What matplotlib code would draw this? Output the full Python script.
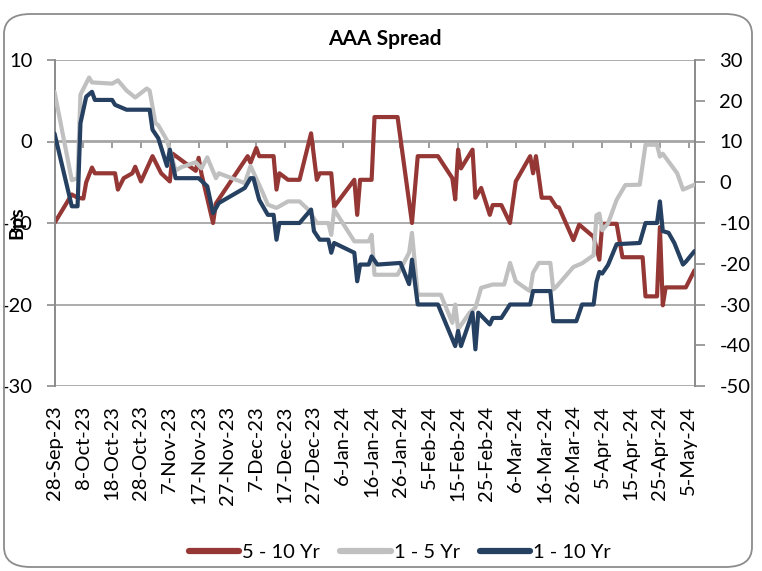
import pandas as pd
import matplotlib
matplotlib.use("Agg")
import matplotlib.pyplot as plt
from matplotlib.patches import FancyBboxPatch

plt.rcParams['font.family'] = ['Lato', 'DejaVu Sans']
plt.rcParams['axes.unicode_minus'] = False

# 5 - 10 Yr (left axis)
red_dates = ["2023-09-28", "2023-10-04", "2023-10-06", "2023-10-08", "2023-10-09", "2023-10-11",
             "2023-10-12", "2023-10-19", "2023-10-20", "2023-10-22", "2023-10-25", "2023-10-26",
             "2023-10-28", "2023-11-01", "2023-11-04", "2023-11-07", "2023-11-08", "2023-11-16",
             "2023-11-17", "2023-11-18", "2023-11-22", "2023-11-23", "2023-12-04", "2023-12-05",
             "2023-12-07", "2023-12-08", "2023-12-13", "2023-12-14", "2023-12-15", "2023-12-18",
             "2023-12-22", "2023-12-26", "2023-12-28", "2023-12-29", "2024-01-02", "2024-01-03",
             "2024-01-10", "2024-01-11", "2024-01-12", "2024-01-16", "2024-01-17", "2024-01-25",
             "2024-01-30", "2024-02-01", "2024-02-08", "2024-02-13", "2024-02-14", "2024-02-15",
             "2024-02-16", "2024-02-20", "2024-02-21", "2024-02-23", "2024-02-26", "2024-02-27",
             "2024-03-01", "2024-03-04", "2024-03-06", "2024-03-11", "2024-03-12", "2024-03-13",
             "2024-03-15", "2024-03-18", "2024-03-20", "2024-03-21", "2024-03-26", "2024-03-28",
             "2024-04-02", "2024-04-04", "2024-04-05", "2024-04-10", "2024-04-12", "2024-04-19",
             "2024-04-20", "2024-04-24", "2024-04-25", "2024-04-26", "2024-04-27", "2024-05-04",
             "2024-05-07"]
red_vals = [-10, -6.5, -6.9, -7.0, -5.0, -3.2,
            -3.9, -3.9, -5.9, -4.5, -3.9, -3.1,
            -4.9, -1.8, -3.9, -4.9, -1.5, -3.6,
            -2.0, -4.0, -10.0, -7.6, -1.8, -2.6,
            -0.8, -1.8, -1.8, -5.9, -3.9, -4.7,
            -4.7, 1.0, -4.7, -3.9, -3.9, -8.0,
            -4.7, -9.0, -4.7, -4.7, 3.0, 3.0,
            -10.0, -1.8, -1.8, -4.5, -7.1, -1.0,
            -3.3, -1.0, -6.9, -5.7, -9.0, -7.8,
            -7.8, -10.0, -4.9, -1.8, -3.9, -1.8,
            -6.9, -6.9, -8.0, -8.1, -12.1, -10.2,
            -11.7, -14.5, -10.1, -10.1, -14.2, -14.2,
            -19.0, -19.0, -10.5, -20.1, -17.9, -17.9,
            -15.8]

# 1 - 5 Yr (right axis)
gray_dates = ["2023-09-28", "2023-10-04", "2023-10-06", "2023-10-07", "2023-10-10", "2023-10-11",
              "2023-10-18", "2023-10-20", "2023-10-23", "2023-10-26", "2023-10-30", "2023-10-31",
              "2023-11-02", "2023-11-03", "2023-11-06", "2023-11-09", "2023-11-11", "2023-11-16",
              "2023-11-18", "2023-11-20", "2023-11-23", "2023-11-24", "2023-12-03", "2023-12-05",
              "2023-12-09", "2023-12-11", "2023-12-14", "2023-12-18", "2023-12-22", "2023-12-25",
              "2023-12-28", "2024-01-01", "2024-01-02", "2024-01-03", "2024-01-10", "2024-01-15",
              "2024-01-16", "2024-01-17", "2024-01-25", "2024-01-29", "2024-01-30", "2024-02-01",
              "2024-02-09", "2024-02-13", "2024-02-14", "2024-02-15", "2024-02-19", "2024-02-21",
              "2024-02-23", "2024-02-27", "2024-03-02", "2024-03-04", "2024-03-06", "2024-03-10",
              "2024-03-11", "2024-03-12", "2024-03-14", "2024-03-18", "2024-03-19", "2024-03-20",
              "2024-03-26", "2024-03-29", "2024-04-02", "2024-04-03", "2024-04-04", "2024-04-05",
              "2024-04-07", "2024-04-10", "2024-04-13", "2024-04-18", "2024-04-20", "2024-04-24",
              "2024-04-25", "2024-04-26", "2024-05-01", "2024-05-03", "2024-05-07"]
gray_vals = [22.2, 0.5, 1.0, 21.5, 25.7, 24.5,
             24.2, 25.0, 22.5, 20.8, 23.0, 22.5,
             14.5, 14.0, 10.3, 2.9, 3.7, 4.9,
             3.4, 6.1, 1.0, 2.2, -0.2, 4.0,
             -2.2, -5.5, -6.3, -4.7, -4.7, -6.7,
             -10.0, -10.0, -12.9, -6.7, -14.5, -14.5,
             -12.9, -22.7, -22.7, -17.3, -12.4, -27.6,
             -27.6, -34.5, -30.0, -36.1, -32.0, -30.8,
             -25.9, -25.1, -25.1, -19.8, -24.3, -26.3,
             -26.7, -22.2, -19.8, -19.8, -26.3, -25.7,
             -20.8, -19.9, -17.9, -8.1, -7.7, -11.8,
             -10.1, -4.3, -0.7, -0.6, 9.2, 9.2,
             6.3, 7.0, 2.2, -1.8, -0.6]

# 1 - 10 Yr (right axis)
blue_dates = ["2023-09-28", "2023-10-04", "2023-10-06", "2023-10-07", "2023-10-09", "2023-10-11",
              "2023-10-12", "2023-10-18", "2023-10-19", "2023-10-23", "2023-10-31", "2023-11-01",
              "2023-11-03", "2023-11-06", "2023-11-07", "2023-11-09", "2023-11-17", "2023-11-20",
              "2023-11-22", "2023-11-24", "2023-12-03", "2023-12-05", "2023-12-06", "2023-12-08",
              "2023-12-11", "2023-12-13", "2023-12-14", "2023-12-15", "2023-12-22", "2023-12-26",
              "2023-12-27", "2023-12-29", "2024-01-01", "2024-01-02", "2024-01-03", "2024-01-10",
              "2024-01-11", "2024-01-12", "2024-01-15", "2024-01-16", "2024-01-18", "2024-01-26",
              "2024-01-29", "2024-01-30", "2024-02-01", "2024-02-08", "2024-02-14", "2024-02-15",
              "2024-02-16", "2024-02-20", "2024-02-21", "2024-02-22", "2024-02-26", "2024-02-27",
              "2024-03-01", "2024-03-04", "2024-03-11", "2024-03-12", "2024-03-18", "2024-03-19",
              "2024-03-27", "2024-03-29", "2024-04-02", "2024-04-03", "2024-04-04", "2024-04-05",
              "2024-04-07", "2024-04-10", "2024-04-18", "2024-04-20", "2024-04-24", "2024-04-25",
              "2024-04-26", "2024-04-28", "2024-04-30", "2024-05-03", "2024-05-04", "2024-05-07"]
blue_vals = [12.0, -5.9, -5.9, 14.5, 21.0, 22.2,
             20.2, 20.2, 19.0, 17.8, 17.8, 12.9,
             10.8, 4.0, 8.0, 1.0, 1.0, -1.0,
             -7.6, -5.1, -1.4, 1.0, 1.0, -4.3,
             -8.0, -8.0, -14.1, -10.0, -10.0, -6.7,
             -12.0, -14.1, -14.1, -17.3, -14.9, -17.3,
             -24.3, -20.2, -20.2, -18.2, -20.2, -19.8,
             -25.0, -19.0, -30.0, -30.0, -40.2, -36.5,
             -40.2, -32.0, -41.0, -32.0, -34.9, -33.3,
             -33.3, -30.0, -30.0, -26.7, -26.7, -34.1,
             -34.1, -30.0, -30.0, -24.5, -22.0, -22.4,
             -20.3, -15.2, -14.9, -10.0, -10.0, -4.7,
             -12.0, -12.4, -14.9, -20.2, -19.5, -16.9]

red_c = "#953735"
gray_c = "#C0C0C0"
blue_c = "#254061"
axis_c = "#8C8C8C"

fig = plt.figure(figsize=(7.62, 5.71), dpi=100)
ax = fig.add_axes([54.5 / 762, 1 - 386 / 571, 640 / 762, 326 / 571])
ax2 = ax.twinx()

# rounded chart border
fig.patches.append(FancyBboxPatch((4 / 762, 4 / 571), 748 / 762, 553 / 571,
                                  boxstyle="round,pad=0,rounding_size=0.035",
                                  transform=fig.transFigure, fill=False,
                                  edgecolor="#8C8C8C", linewidth=1.3))

red_x = pd.to_datetime(red_dates)
gray_x = pd.to_datetime(gray_dates)
blue_x = pd.to_datetime(blue_dates)

ax.plot(red_x, red_vals, color=red_c, lw=3, solid_joinstyle="round", solid_capstyle="round",
        label="5 - 10 Yr", zorder=3)
ax2.plot(gray_x, gray_vals, color=gray_c, lw=3, solid_joinstyle="round", solid_capstyle="round",
         label="1 - 5 Yr", zorder=3)
ax2.plot(blue_x, blue_vals, color=blue_c, lw=3, solid_joinstyle="round", solid_capstyle="round",
         label="1 - 10 Yr", zorder=4)

x0 = pd.Timestamp("2023-09-28")
x1 = pd.Timestamp("2024-05-07")
ax.set_xlim(x0, x1)
ax.set_ylim(-30, 10)
ax2.set_ylim(-50, 30)

ticks = pd.date_range("2023-09-28", "2024-05-05", freq="10D")
ax.set_xticks(ticks)
ax.set_xticklabels([f"{t.day}-{t:%b-%y}" for t in ticks], rotation=90, fontsize=14.5)
ax.tick_params(axis="x", length=0, pad=14)

ax.set_yticks([-30, -20, -10, 0, 10])
ax.tick_params(axis="y", direction="out", length=6, color=axis_c, width=1.2, labelsize=14.5, pad=10)
ax2.set_yticks(range(-50, 31, 10))
ax2.tick_params(axis="y", direction="out", length=7, color=axis_c, width=1.2, labelsize=14.5, pad=11)

ax.grid(axis="y", color="#A6A6A6", lw=1.3)
ax.set_axisbelow(True)

for a in (ax, ax2):
    a.spines["top"].set_visible(False)
    a.spines["bottom"].set_visible(False)
    a.spines["left"].set_color(axis_c)
    a.spines["right"].set_color(axis_c)
    a.spines["left"].set_linewidth(1.3)
    a.spines["right"].set_linewidth(1.3)
    a.patch.set_visible(False)

# horizontal axis crosses at zero with small tick marks
zero_pos = (0 - (-30)) / 40
secx = ax.secondary_xaxis(zero_pos)
secx.set_xticks(ticks)
secx.tick_params(axis="x", direction="in", length=5, color=axis_c, width=1.2,
                 labeltop=False, labelbottom=False)
secx.spines["top"].set_color("#A6A6A6")
secx.spines["top"].set_linewidth(1.3)
secx.spines["bottom"].set_visible(False)

fig.text(385 / 762, 1 - 39 / 571, "AAA Spread", ha="center", va="center",
         fontsize=15, fontweight="bold")
fig.text(17 / 762, 1 - 223 / 571, "Bps", rotation=90, ha="center", va="center",
         fontsize=14, fontweight="bold")

h1, l1 = ax.get_legend_handles_labels()
h2, l2 = ax2.get_legend_handles_labels()
leg = fig.legend(h1 + h2, l1 + l2, loc="center", bbox_to_anchor=(400 / 762, 1 - 552 / 571),
                 ncol=3, frameon=False, fontsize=14.5, handlelength=2.5, handletextpad=0.15,
                 columnspacing=1.0)
for ln in leg.get_lines():
    ln.set_linewidth(4.5)

fig.savefig("out.png", dpi=100)
